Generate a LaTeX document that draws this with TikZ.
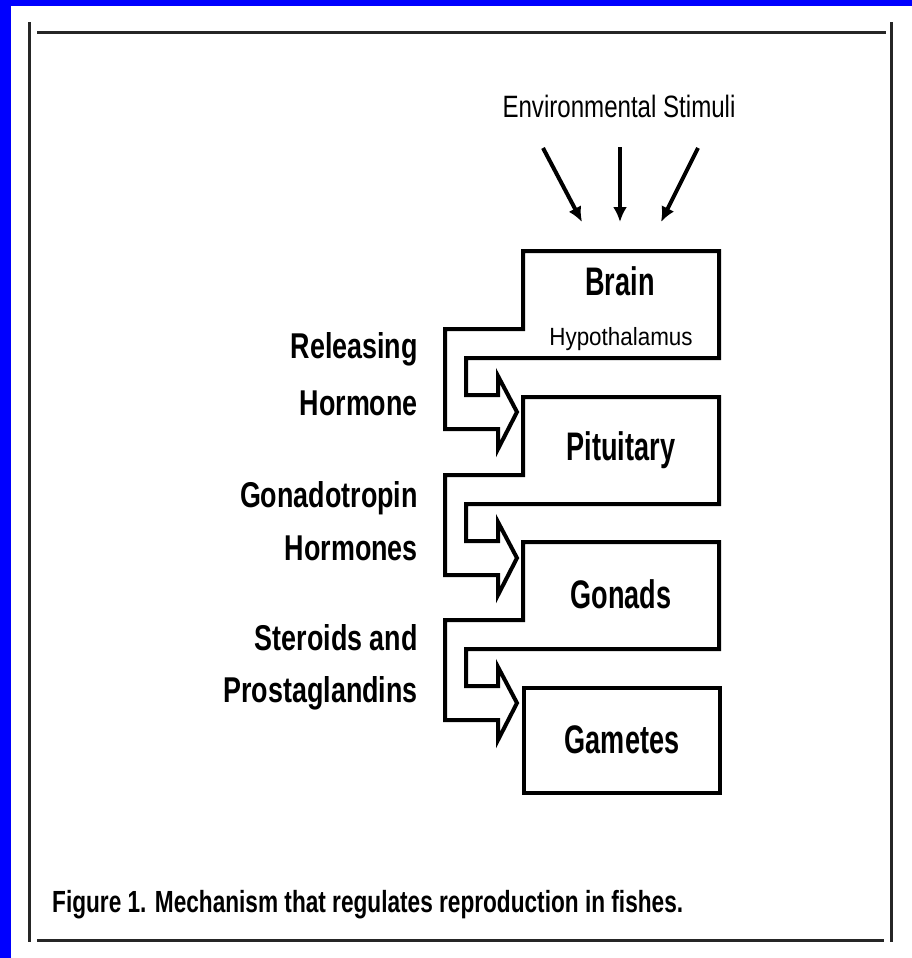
\documentclass[tikz,border=0pt]{standalone}
\usepackage{fontspec}
\setmainfont{Liberation Sans}
\newfontfamily\boxfont[FakeStretch=0.68]{Liberation Sans}
\newfontfamily\lblfont[FakeStretch=0.75]{Liberation Sans}
\newfontfamily\capfont[FakeStretch=0.74]{Liberation Sans}
\newfontfamily\envfont[FakeStretch=0.78]{Liberation Sans}
\newfontfamily\hypfont[FakeStretch=0.9]{Liberation Sans}
\usetikzlibrary{arrows.meta}
\tikzset{
  stageline/.style={line width=4bp, line join=miter, draw=black},
  frameline/.style={line width=3bp, draw=black!85},
  stimarrow/.style={line width=4bp, -{Latex[length=15bp,width=14bp]}},
  boxlabel/.style={anchor=base, inner sep=0pt, font=\boxfont\bfseries\fontsize{40}{48}\selectfont},
  sidelabel/.style={anchor=base east, inner sep=0pt, font=\lblfont\bfseries\fontsize{36}{43}\selectfont},
}
\newcommand\stageshape[1]{%
  \draw[stageline] (523,#1) -- (719,#1) -- (719,{#1+107}) -- (466,{#1+107})
    -- (466,{#1+144}) -- (498,{#1+144}) -- (498,{#1+125}) -- (517,{#1+161})
    -- (498,{#1+198}) -- (498,{#1+178}) -- (445,{#1+178}) -- (445,{#1+78})
    -- (523,{#1+78}) -- cycle;}
\begin{document}
\begin{tikzpicture}[x=1bp,y=-1bp]
\useasboundingbox (0,0) rectangle (912,958);
\fill[white] (0,0) rectangle (912,958);
% blue page edge
\fill[blue] (0,0) rectangle (912,6);
\fill[blue] (0,0) rectangle (11,958);
% frame
\draw[frameline] (37,32) -- (886,32);
\draw[frameline] (37,940) -- (884,940);
\draw[frameline] (29,22) -- (29,942);
\draw[frameline] (891,22) -- (891,942);

% stimuli
\node[anchor=base, inner sep=0pt, font=\envfont\fontsize{31}{37}\selectfont] (stim) at (619,117) {Environmental Stimuli};
\coordinate (s1a) at (543,148); \coordinate (s1b) at (582,222);
\coordinate (s2a) at (620,147); \coordinate (s2b) at (620,222);
\coordinate (s3a) at (698,148); \coordinate (s3b) at (661,222);
\draw[stimarrow] (s1a) -- (s1b);
\draw[stimarrow] (s2a) -- (s2b);
\draw[stimarrow] (s3a) -- (s3b);

% stages with hollow arrows
\stageshape{251}
\stageshape{397}
\stageshape{542}
\draw[stageline] (524,688) rectangle (720,793);

% box labels
\node[boxlabel] (brain) at (620,295) {Brain};
\node[anchor=base, inner sep=0pt, font=\hypfont\fontsize{25}{30}\selectfont] (hyp) at (621,345) {Hypothalamus};
\node[boxlabel] (pit) at (621,460) {Pituitary};
\node[boxlabel] (gon) at (621,608) {Gonads};
\node[boxlabel] (gam) at (622,753) {Gametes};

% side labels
\node[sidelabel] (rel1) at (418,358) {Releasing};
\node[sidelabel] (rel2) at (418,415) {Hormone};
\node[sidelabel] (gnd1) at (418,507) {Gonadotropin};
\node[sidelabel] (gnd2) at (418,560) {Hormones};
\node[sidelabel] (ste1) at (418,650) {Steroids and};
\node[sidelabel] (ste2) at (418,702) {Prostaglandins};

% caption
\node[anchor=base west, inner sep=0pt, font=\capfont\bfseries\fontsize{30.7}{36}\selectfont] (cap) at (52,912) {Figure 1. Mechanism that regulates reproduction in fishes.};
\end{tikzpicture}
\end{document}
